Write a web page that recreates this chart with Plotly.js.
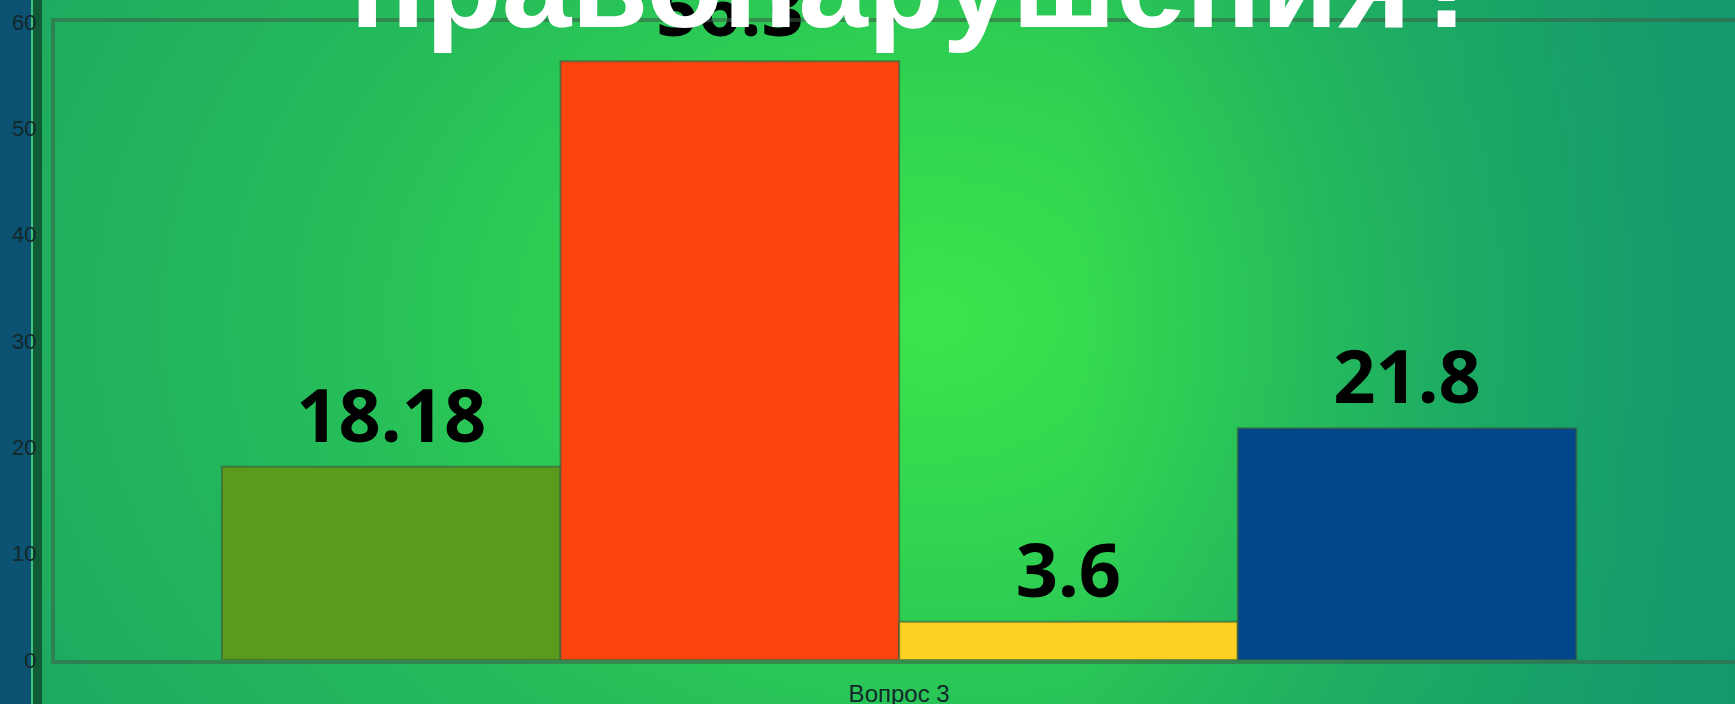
<!DOCTYPE html>
<html>
<head>
<meta charset="utf-8">
<script src="https://cdn.plot.ly/plotly-3.0.1.min.js"></script>
<style>
  html, body { margin: 0; padding: 0; width: 1735px; height: 704px; overflow: hidden; }
  body {
    background:
      linear-gradient(to right, #0c5273 0px, #0c5273 31px, #3fc57a 31px, #3fc57a 33px, #105b36 33px, #105b36 42px, rgba(0,0,0,0) 42px),
      linear-gradient(to right, rgba(18,148,112,0) 0%, rgba(18,148,112,0) 62%, rgba(18,148,112,0.85) 100%),
      radial-gradient(ellipse 1000px 760px at 930px 320px, #3ce44b 0%, #31d351 30%, #25bc5a 62%, #1daa60 100%);
  }
  #chart { width: 1735px; height: 704px; }
</style>
</head>
<body>
<div id="chart"></div>
<script>
// ---- data ----
const categories = ['Вопрос 3'];
const seriesNames = ['Ряд 1', 'Ряд 2', 'Ряд 3', 'Ряд 4'];
const seriesValues = [18.18, 56.3, 3.6, 21.8];
const seriesColors = ['#5a9b1e', '#fe4510', '#fdd123', '#01468a'];
const yTicks = [0, 10, 20, 30, 40, 50, 60];
const titleText = 'правонарушения?';

const traces = seriesNames.map((name, i) => ({
  type: 'bar',
  name: name,
  x: categories,
  y: [seriesValues[i]],
  marker: { color: seriesColors[i], line: { color: 'rgba(60,95,60,0.65)', width: 2 } },
  texttemplate: '%{y}',
  textposition: 'outside',
  cliponaxis: false,
  textfont: { family: 'Noto Sans, Liberation Sans, sans-serif', size: 74, color: '#000000', weight: 'bold' },
  hoverinfo: 'skip'
}));

const layout = {
  width: 1735,
  height: 704,
  margin: { l: 55, r: 0, t: 22, b: 44, pad: 0 },
  paper_bgcolor: 'rgba(0,0,0,0)',
  plot_bgcolor: 'rgba(0,0,0,0)',
  showlegend: false,
  barmode: 'group',
  bargap: 0.2,
  bargroupgap: 0,
  title: {
    text: titleText,
    x: 0.5295, xanchor: 'center', xref: 'container',
    y: 1 - 27 / 704, yanchor: 'bottom', yref: 'container',
    font: { family: 'Liberation Sans, Arial, sans-serif', size: 125, color: '#ffffff', weight: 'bold' }
  },
  xaxis: {
    type: 'category',
    range: [-0.4986, 0.4937],
    showline: true, mirror: true,
    linecolor: 'rgba(60,95,70,0.55)', linewidth: 4,
    showgrid: false, zeroline: false, ticks: '',
    ticklabelstandoff: 9,
    tickfont: { family: 'Liberation Sans, Arial, sans-serif', size: 24, color: '#14282a' }
  },
  yaxis: {
    range: [0, 60],
    tickvals: yTicks,
    showline: true, mirror: false,
    linecolor: 'rgba(60,95,70,0.55)', linewidth: 4,
    showgrid: false, zeroline: false, ticks: '',
    ticklabelstandoff: 10,
    tickfont: { family: 'Liberation Sans, Arial, sans-serif', size: 22, color: '#14282a' }
  }
};

Plotly.newPlot('chart', traces, layout, { staticPlot: true, displayModeBar: false });
</script>
</body>
</html>
